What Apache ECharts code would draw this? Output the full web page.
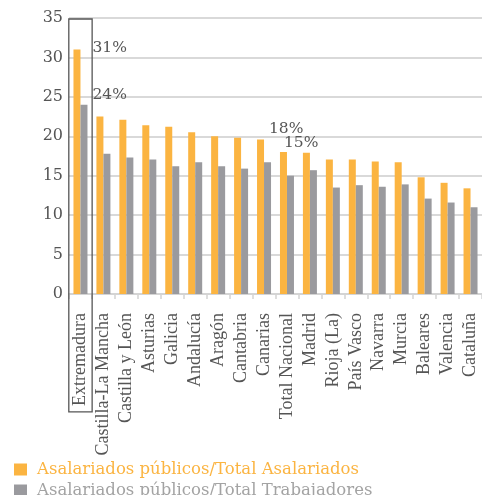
<!DOCTYPE html>
<html>
<head>
<meta charset="utf-8">
<script src="https://cdn.jsdelivr.net/npm/echarts@6/dist/echarts.min.js"></script>
<style>
  html, body { margin: 0; padding: 0; background: #fff; }
  #chart { width: 482px; height: 495px; }
</style>
</head>
<body>
<div id="chart"></div>
<script>
// Public-sector employees share by region (%)
const regions = ['Extremadura', 'Castilla-La Mancha', 'Castilla y León', 'Asturias', 'Galicia',
  'Andalucía', 'Aragón', 'Cantabria', 'Canarias', 'Total Nacional', 'Madrid', 'Rioja (La)',
  'País Vasco', 'Navarra', 'Murcia', 'Baleares', 'Valencia', 'Cataluña'];
const shareOfEmployees = [31, 22.5, 22.1, 21.4, 21.2, 20.5, 20.0, 19.8, 19.6, 18, 17.9, 17.05,
  17.05, 16.8, 16.7, 14.8, 14.1, 13.4];
const shareOfWorkers = [24, 17.8, 17.3, 17.05, 16.2, 16.7, 16.2, 15.9, 16.7, 15, 15.7, 13.5,
  13.8, 13.6, 13.9, 12.1, 11.6, 11.0];
const yTicks = [0, 5, 10, 15, 20, 25, 30, 35];
const seriesNames = ['Asalariados públicos/Total Asalariados', 'Asalariados públicos/Total Trabajadores'];
const highlighted = ['Extremadura', 'Total Nacional'];

const ORANGE = '#FBB441';
const GREY = '#9A9A9E';
const TEXT = '#555555';
const SERIF_WIDE = 'DejaVu Serif';
const SERIF = 'Liberation Serif';
const LABEL_MARGIN = 19;

// per-item label placement (offset from bar's top-left corner)
const labelPos = {
  0: { 'Extremadura': [19, -2], 'Total Nacional': [-11, -23] },
  1: { 'Extremadura': [12, -10], 'Total Nacional': [-3, -33] }
};

function buildData(values, si) {
  return values.map((v, i) => {
    const name = regions[i];
    if (highlighted.indexOf(name) >= 0) {
      return {
        value: v,
        label: {
          show: true,
          position: labelPos[si][name],
          align: 'left',
          verticalAlign: 'middle',
          formatter: Math.round(v) + '%',
          fontFamily: SERIF_WIDE,
          fontSize: 15.5,
          color: TEXT
        }
      };
    }
    return v;
  });
}

function legendFor(idx, color, top) {
  return {
    orient: 'horizontal',
    left: 14,
    top: top,
    padding: 0,
    itemWidth: 13,
    itemHeight: 12,
    icon: 'rect',
    data: [{ name: seriesNames[idx], itemStyle: { color: idx === 0 ? ORANGE : GREY } }],
    textStyle: { fontFamily: SERIF_WIDE, fontSize: 16.5, color: color, padding: [0, 0, 0, 5] }
  };
}

const chart = echarts.init(document.getElementById('chart'));
const option = {
  animation: false,
  grid: { left: 69, top: 18, bottom: 201, width: 420, containLabel: false },
  legend: [
    legendFor(0, ORANGE, 461),
    legendFor(1, '#A3A3A3', 482)
  ],
  xAxis: {
    type: 'category',
    data: regions,
    axisLine: { show: true, lineStyle: { color: '#d4d4d4', width: 2 } },
    axisTick: { show: true, length: 5, lineStyle: { color: '#d4d4d4', width: 1.5 } },
    axisLabel: {
      interval: 0,
      rotate: 90,
      margin: LABEL_MARGIN,
      fontFamily: SERIF,
      fontSize: 18,
      color: TEXT
    }
  },
  yAxis: {
    type: 'value',
    min: yTicks[0],
    max: yTicks[yTicks.length - 1],
    interval: yTicks[1] - yTicks[0],
    axisLine: { show: false },
    axisTick: { show: false },
    axisLabel: { margin: 6, fontFamily: SERIF_WIDE, fontSize: 16, color: TEXT },
    splitLine: { lineStyle: { color: '#d9d9d9', width: 2 } }
  },
  series: [
    {
      name: seriesNames[0],
      type: 'bar',
      barWidth: 7,
      barGap: '0%',
      itemStyle: { color: ORANGE },
      data: buildData(shareOfEmployees, 0)
    },
    {
      name: seriesNames[1],
      type: 'bar',
      barWidth: 7,
      barGap: '0%',
      itemStyle: { color: GREY },
      data: buildData(shareOfWorkers, 1)
    }
  ]
};
chart.setOption(option);

// Frame around the first category and its axis label
(function drawFrame() {
  const cx = chart.convertToPixel({ xAxisIndex: 0 }, regions[0]);
  const band = 420 / regions.length;
  const yTop = chart.convertToPixel({ yAxisIndex: 0 }, yTicks[yTicks.length - 1]);
  const yZero = chart.convertToPixel({ yAxisIndex: 0 }, 0);
  const ctx = document.createElement('canvas').getContext('2d');
  ctx.font = '18px "' + SERIF + '"';
  const labelLen = ctx.measureText(regions[0]).width;
  const yBottom = yZero + LABEL_MARGIN + labelLen + 6;
  chart.setOption({
    graphic: [{
      type: 'rect',
      shape: { x: cx - band / 2, y: yTop + 1, width: band, height: yBottom - yTop - 1 },
      style: { fill: 'none', stroke: '#555', lineWidth: 1.3 },
      z: 10
    }]
  });
})();
</script>
</body>
</html>
